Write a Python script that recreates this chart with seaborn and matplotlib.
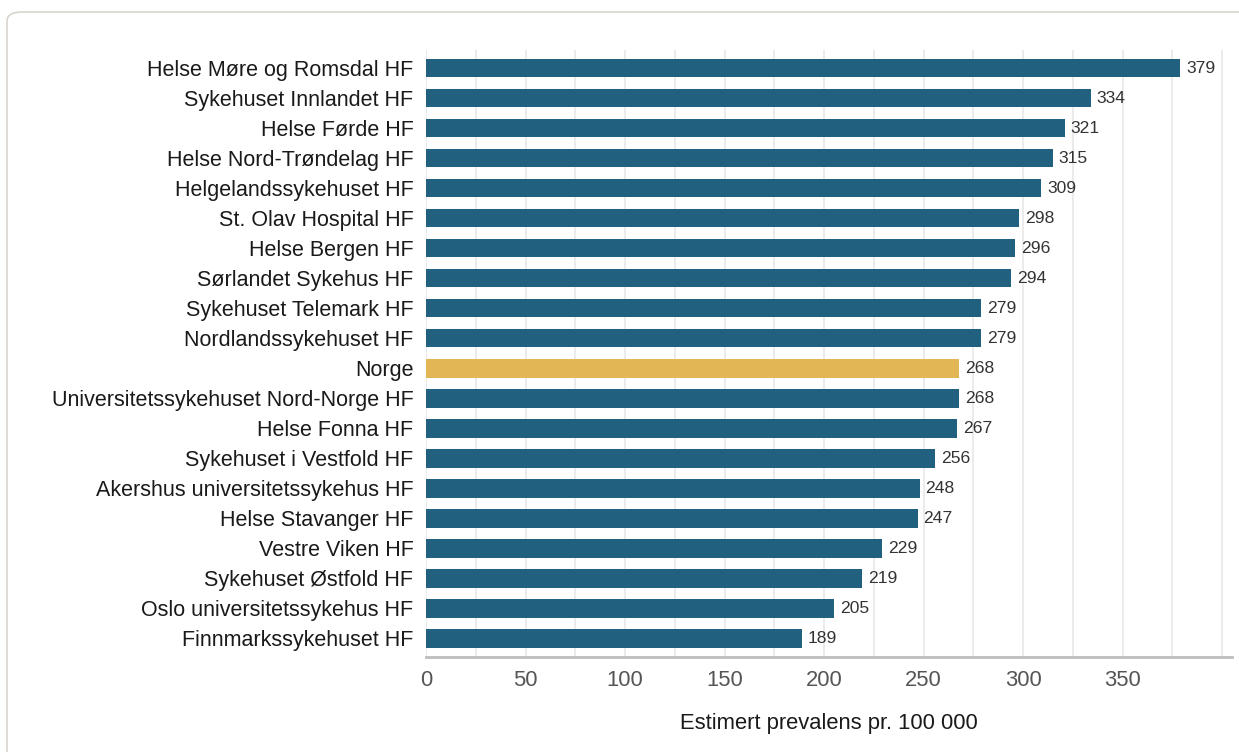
import matplotlib
matplotlib.use("Agg")
import matplotlib.pyplot as plt
from matplotlib.patches import FancyBboxPatch
import seaborn as sns
import pandas as pd

# Estimated prevalence per 100 000 by health trust
regions = [
    "Helse Møre og Romsdal HF",
    "Sykehuset Innlandet HF",
    "Helse Førde HF",
    "Helse Nord-Trøndelag HF",
    "Helgelandssykehuset HF",
    "St. Olav Hospital HF",
    "Helse Bergen HF",
    "Sørlandet Sykehus HF",
    "Sykehuset Telemark HF",
    "Nordlandssykehuset HF",
    "Norge",
    "Universitetssykehuset Nord-Norge HF",
    "Helse Fonna HF",
    "Sykehuset i Vestfold HF",
    "Akershus universitetssykehus HF",
    "Helse Stavanger HF",
    "Vestre Viken HF",
    "Sykehuset Østfold HF",
    "Oslo universitetssykehus HF",
    "Finnmarkssykehuset HF",
]
prevalence = [379, 334, 321, 315, 309, 298, 296, 294, 279, 279,
              268, 268, 267, 256, 248, 247, 229, 219, 205, 189]
x_ticks = [0, 50, 100, 150, 200, 250, 300, 350]
x_label = "Estimert prevalens pr. 100 000"
national = "Norge"

BLUE = "#21607f"
GOLD = "#e3b655"

df = pd.DataFrame({"region": regions, "value": prevalence})
palette = {r: (GOLD if r == national else BLUE) for r in regions}

sns.set_theme(style="white")
plt.rcParams["font.family"] = ["Liberation Sans", "DejaVu Sans"]

fig = plt.figure(figsize=(12.39, 7.52), dpi=100)
fig.patch.set_facecolor("white")

# card outline behind the chart
card = FancyBboxPatch((7 / 1239, -0.05), 1.2, 1 - 12 / 752 + 0.05,
                      boxstyle="round,pad=0,rounding_size=0.012",
                      transform=fig.transFigure, facecolor="white",
                      edgecolor="#d9d5cf", linewidth=1.2, zorder=-5)
fig.patches.append(card)

ax = fig.add_axes([426 / 1239, 1 - 657 / 752, (1232 - 426) / 1239, (657 - 50) / 752])
ax.set_zorder(2)
ax.set_facecolor("none")

sns.barplot(data=df, x="value", y="region", hue="region", palette=palette,
            order=regions, orient="h", width=0.63, legend=False, ax=ax,
            saturation=1, zorder=3)

for patch in ax.patches:
    patch.set_edgecolor("none")

for i, v in enumerate(prevalence):
    ax.text(v + 3, i, f"{v}", va="center", ha="left", fontsize=12.6,
            color="#333333", zorder=4)

ax.set_xlim(0, 405)
ax.set_ylim(len(regions) - 1 + 0.63, -0.6)

# minor gridlines every 25
ax.set_xticks(list(range(0, 401, 25)), minor=True)
ax.set_xticks(x_ticks)
ax.set_xticklabels([str(t) for t in x_ticks])
ax.grid(axis="x", which="both", color="#e8e8e8", linewidth=1.2, zorder=0)
ax.set_axisbelow(True)

for s in ["top", "right", "left"]:
    ax.spines[s].set_visible(False)
ax.spines["bottom"].set_color("#bdbdbd")
ax.spines["bottom"].set_linewidth(2)

ax.tick_params(axis="x", which="both", length=0, pad=9, labelsize=15.8,
               labelcolor="#555555")
ax.tick_params(axis="y", length=0, pad=9, labelsize=15.5, labelcolor="#1a1a1a")
ax.set_ylabel("")
ax.set_xlabel(x_label, fontsize=15.8, color="#1a1a1a", labelpad=16)

fig.savefig("out.png", dpi=100)
